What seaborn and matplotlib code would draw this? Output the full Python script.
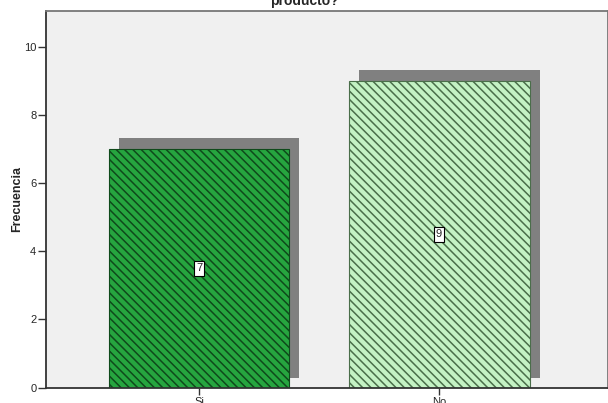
import matplotlib
matplotlib.use("Agg")
import matplotlib.pyplot as plt
import matplotlib.transforms as mtransforms
import pandas as pd
import seaborn as sns

# Frequencies per answer
categories = ["Si", "No"]
counts = [7, 9]
y_ticks = [0, 2, 4, 6, 8, 10]
title_text = "producto?"
y_label = "Frecuencia"

bar_faces = ["#26a53f", "#c4f2c4"]
hatch_lines = ["#0f4a1b", "#4a6e4a"]

sns.set_style("white")
plt.rcParams["font.family"] = ["Arial", "Liberation Sans", "DejaVu Sans"]
plt.rcParams["hatch.linewidth"] = 1.1

df = pd.DataFrame({"respuesta": categories, "frecuencia": counts})

fig = plt.figure(figsize=(6.08, 4.03), dpi=100)
ax = fig.add_axes([46 / 608, 1 - 387.5 / 403, 1 - 46 / 608, (387.5 - 11) / 403])
ax.set_facecolor("#f0f0f0")

bar_width = 0.754

# drop shadows behind the bars
sns.barplot(data=df, x="respuesta", y="frecuencia", order=categories,
            color="#808080", width=bar_width, ax=ax, zorder=1,
            errorbar=None, linewidth=0, saturation=1)
shadow_patches = list(ax.patches)
shadow_tr = mtransforms.offset_copy(ax.transData, fig=fig, x=10, y=11, units="dots")
for p in shadow_patches:
    p.set_transform(shadow_tr)
    p.set_y(-0.04)
    p.set_height(p.get_height() + 0.04)

# main hatched bars
sns.barplot(data=df, x="respuesta", y="frecuencia", order=categories,
            color="#26a53f", width=bar_width, ax=ax, zorder=2,
            errorbar=None, saturation=1)
main_patches = [p for p in ax.patches if p not in shadow_patches]
for p, fc, hc in zip(main_patches, bar_faces, hatch_lines):
    p.set_facecolor(fc)
    p.set_edgecolor(hc)
    p.set_linewidth(0.8)
    p.set_hatch("\\\\\\\\")

# value labels in the middle of each bar
for i, v in enumerate(counts):
    ax.text(i, v / 2, str(v), ha="center", va="center", fontsize=8, zorder=5,
            bbox=dict(boxstyle="square,pad=0.2", facecolor="white",
                      edgecolor="black", linewidth=0.8))

ax.set_xlim(-0.6375, 1.704)
ax.set_ylim(0, 11.07)
ax.set_yticks(y_ticks)
ax.set_yticklabels([str(t) for t in y_ticks], fontsize=8)
ax.set_xticks(range(len(categories)))
ax.set_xticklabels(categories, fontsize=8, rotation=0)
ax.tick_params(axis="both", direction="out", length=6, width=1, color="#333333",
               left=True, bottom=True, pad=1)
ax.tick_params(axis="x", length=5, pad=2)
ax.set_xlabel("")
ax.set_ylabel(y_label, fontsize=9, fontweight="bold")
ax.yaxis.set_label_coords(-0.041, 0.5)

for side in ["left", "bottom"]:
    ax.spines[side].set_color("#333333")
    ax.spines[side].set_linewidth(1.3)
for side in ["top", "right"]:
    ax.spines[side].set_color("#777777")
    ax.spines[side].set_linewidth(1.3)

fig.text(0.5, 1 - 7.5 / 403, title_text, ha="center", va="bottom",
         fontsize=10, fontweight="bold")

fig.savefig("out.png", dpi=100)
